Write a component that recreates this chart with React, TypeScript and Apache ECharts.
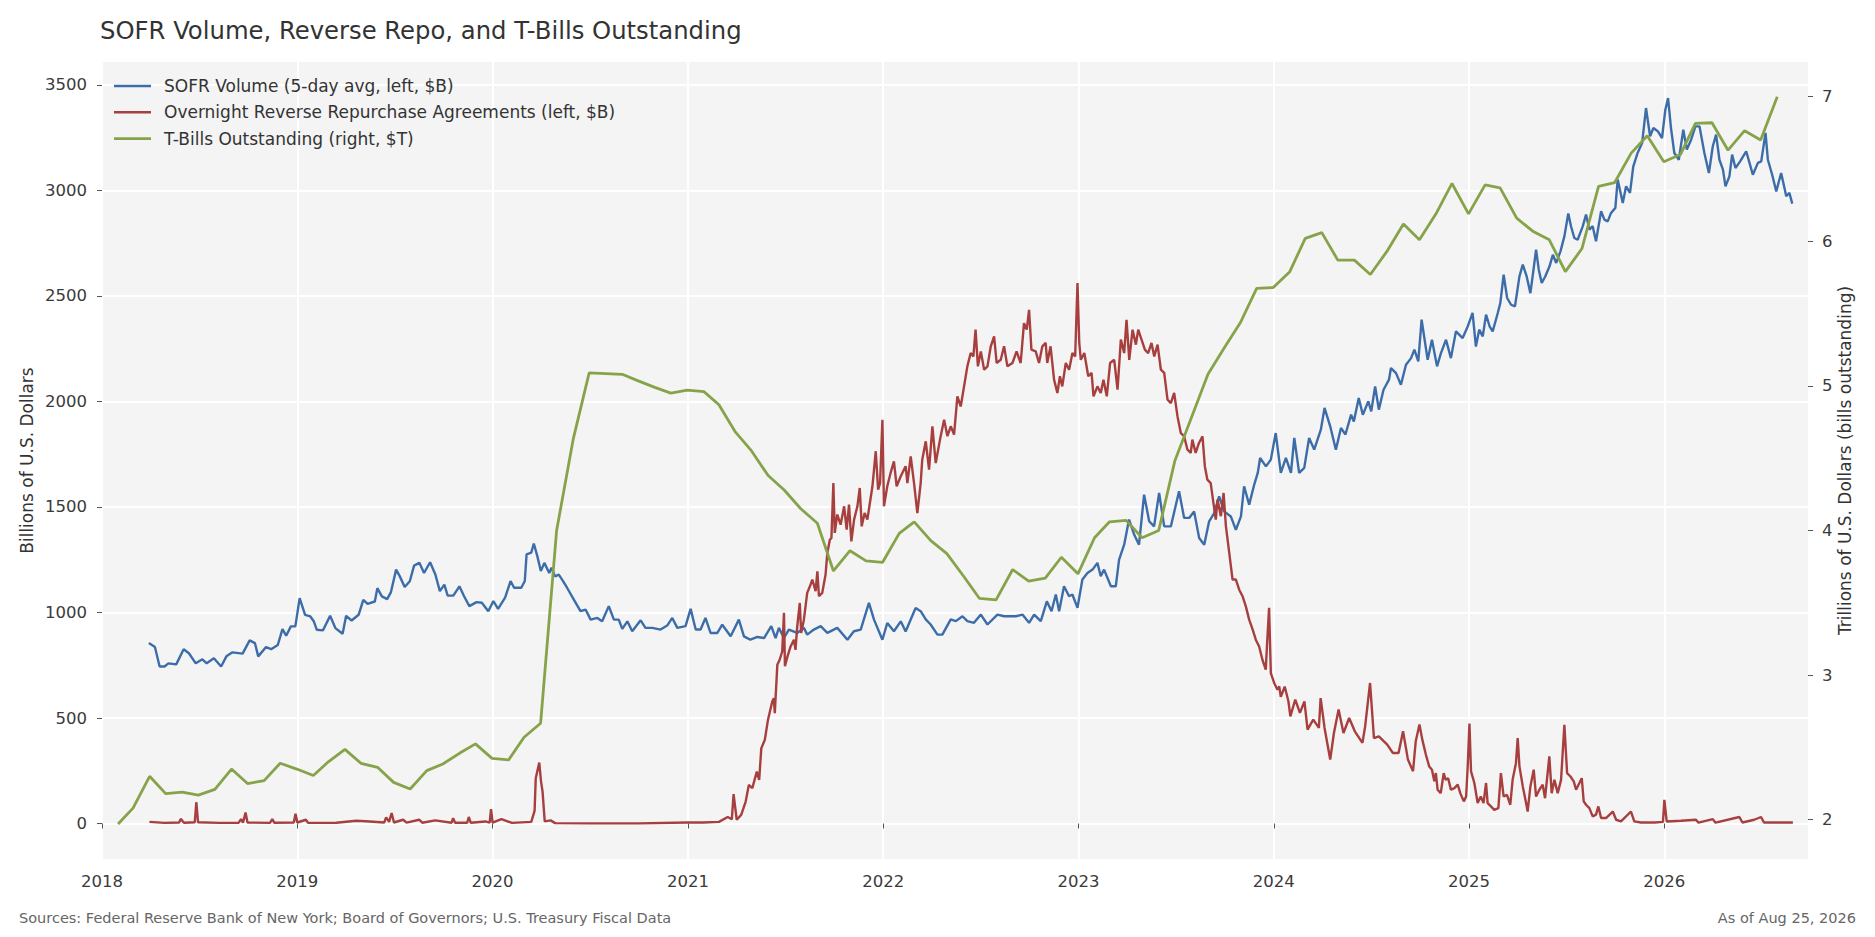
import React, { useEffect, useRef } from "react";
import * as echarts from "echarts";

const TITLE = "SOFR Volume, Reverse Repo, and T-Bills Outstanding";
const SOURCE_NOTE = "Sources: Federal Reserve Bank of New York; Board of Governors; U.S. Treasury Fiscal Data";
const AS_OF = "As of Aug 25, 2026";
const LEFT_AXIS_NAME = "Billions of U.S. Dollars";
const RIGHT_AXIS_NAME = "Trillions of U.S. Dollars (bills outstanding)";
const SERIES_NAMES = [
  "SOFR Volume (5-day avg, left, $B)",
  "Overnight Reverse Repurchase Agreements (left, $B)",
  "T-Bills Outstanding (right, $T)",
];
const YEAR_TICKS = [2018, 2019, 2020, 2021, 2022, 2023, 2024, 2025, 2026];
const LEFT_TICKS = [0, 500, 1000, 1500, 2000, 2500, 3000, 3500];
const RIGHT_TICKS = [2, 3, 4, 5, 6, 7];

// [decimal year, $B]
const SOFR_VOLUME: [number, number][] = [
  [2018.240,855],[2018.271,836],[2018.295,744],[2018.320,744],[2018.340,759],[2018.380,754],[2018.418,826],[2018.445,807],[2018.480,759],[2018.514,778],[2018.536,759],[2018.573,783],[2018.610,744],[2018.637,792],[2018.668,811],[2018.720,805],[2018.756,868],[2018.783,855],[2018.800,792],[2018.840,836],[2018.866,826],[2018.900,846],[2018.924,921],[2018.943,890],[2018.967,934],[2018.990,934],
  [2019.012,1068],[2019.040,989],[2019.067,981],[2019.085,957],[2019.100,918],[2019.131,915],[2019.168,984],[2019.195,926],[2019.232,899],[2019.250,984],[2019.278,962],[2019.314,989],[2019.338,1060],[2019.360,1041],[2019.397,1052],[2019.410,1115],[2019.433,1076],[2019.460,1063],[2019.479,1095],[2019.506,1203],[2019.525,1171],[2019.550,1121],[2019.576,1148],[2019.598,1222],[2019.625,1235],[2019.649,1187],[2019.680,1238],[2019.707,1180],[2019.730,1101],[2019.753,1132],[2019.770,1080],[2019.799,1080],[2019.830,1124],[2019.854,1077],[2019.881,1030],[2019.918,1049],[2019.945,1046],[2019.978,1006],
  [2020.004,1054],[2020.028,1017],[2020.064,1070],[2020.092,1149],[2020.110,1117],[2020.147,1117],[2020.165,1149],[2020.174,1275],[2020.198,1283],[2020.211,1327],[2020.229,1267],[2020.247,1196],[2020.265,1235],[2020.290,1187],[2020.302,1212],[2020.320,1171],[2020.339,1179],[2020.360,1150],[2020.382,1116],[2020.416,1061],[2020.450,1006],[2020.476,1014],[2020.502,966],[2020.536,974],[2020.561,958],[2020.595,1030],[2020.621,966],[2020.646,966],[2020.664,922],[2020.690,958],[2020.715,911],[2020.758,963],[2020.783,927],[2020.818,927],[2020.860,919],[2020.894,938],[2020.920,974],[2020.946,927],[2020.988,935],
  [2021.014,1017],[2021.040,919],[2021.065,919],[2021.090,974],[2021.116,903],[2021.151,903],[2021.176,942],[2021.219,887],[2021.261,966],[2021.287,887],[2021.320,871],[2021.356,884],[2021.390,879],[2021.427,935],[2021.449,879],[2021.466,927],[2021.492,879],[2021.517,919],[2021.560,903],[2021.594,927],[2021.611,895],[2021.645,919],[2021.680,935],[2021.714,903],[2021.765,927],[2021.817,871],[2021.850,911],[2021.885,919],[2021.927,1045],[2021.953,966],[2021.996,871],
  [2022.021,950],[2022.055,911],[2022.090,958],[2022.115,910],[2022.166,1021],[2022.192,1006],[2022.218,967],[2022.243,943],[2022.278,895],[2022.303,895],[2022.346,967],[2022.372,959],[2022.406,982],[2022.431,959],[2022.465,951],[2022.500,990],[2022.534,943],[2022.585,990],[2022.619,982],[2022.679,982],[2022.713,990],[2022.747,951],[2022.773,990],[2022.807,959],[2022.838,1053],[2022.862,1006],[2022.884,1085],[2022.901,1006],[2022.926,1124],[2022.952,1077],[2022.969,1085],[2022.995,1022],
  [2023.020,1156],[2023.046,1187],[2023.072,1203],[2023.097,1235],[2023.114,1172],[2023.131,1203],[2023.166,1124],[2023.191,1124],[2023.208,1250],[2023.234,1321],[2023.259,1440],[2023.285,1369],[2023.310,1321],[2023.336,1558],[2023.362,1432],[2023.387,1408],[2023.413,1566],[2023.439,1408],[2023.473,1408],[2023.515,1574],[2023.541,1448],[2023.567,1448],[2023.592,1479],[2023.618,1353],[2023.644,1321],[2023.669,1432],[2023.695,1471],[2023.720,1550],[2023.746,1479],[2023.780,1455],[2023.806,1392],[2023.832,1455],[2023.848,1598],[2023.874,1511],[2023.900,1606],[2023.918,1661],[2023.930,1732],[2023.960,1692],[2023.985,1724],
  [2024.010,1850],[2024.036,1661],[2024.062,1732],[2024.088,1661],[2024.105,1827],[2024.130,1661],[2024.156,1685],[2024.181,1827],[2024.207,1772],[2024.241,1866],[2024.260,1969],[2024.289,1882],[2024.318,1771],[2024.344,1874],[2024.367,1843],[2024.396,1937],[2024.410,1905],[2024.435,2016],[2024.456,1937],[2024.484,2000],[2024.499,1953],[2024.519,2071],[2024.538,1961],[2024.562,2055],[2024.590,2103],[2024.600,2158],[2024.626,2134],[2024.651,2079],[2024.677,2174],[2024.703,2205],[2024.720,2245],[2024.740,2190],[2024.757,2387],[2024.788,2197],[2024.810,2292],[2024.836,2166],[2024.856,2229],[2024.882,2292],[2024.907,2205],[2024.933,2332],[2024.967,2300],[2024.993,2355],
  [2025.018,2419],[2025.035,2260],[2025.052,2340],[2025.070,2308],[2025.087,2411],[2025.105,2356],[2025.121,2332],[2025.147,2419],[2025.160,2466],[2025.177,2600],[2025.195,2490],[2025.215,2458],[2025.235,2450],[2025.258,2592],[2025.275,2648],[2025.295,2592],[2025.314,2513],[2025.330,2624],[2025.343,2719],[2025.357,2624],[2025.372,2561],[2025.390,2592],[2025.412,2640],[2025.429,2695],[2025.446,2656],[2025.468,2711],[2025.488,2782],[2025.508,2890],[2025.522,2830],[2025.539,2774],[2025.556,2766],[2025.582,2829],[2025.599,2885],[2025.616,2814],[2025.633,2830],[2025.650,2759],[2025.676,2901],[2025.693,2861],[2025.710,2853],[2025.727,2893],[2025.749,2917],[2025.761,3051],[2025.787,2940],[2025.804,3019],[2025.824,2988],[2025.841,3114],[2025.863,3177],[2025.886,3224],[2025.906,3390],[2025.927,3256],[2025.944,3295],[2025.966,3280],[2025.988,3248],
  [2026.005,3382],[2026.019,3437],[2026.034,3295],[2026.051,3177],[2026.074,3145],[2026.097,3287],[2026.115,3193],[2026.137,3240],[2026.159,3303],[2026.180,3303],[2026.205,3177],[2026.228,3082],[2026.248,3209],[2026.265,3264],[2026.282,3145],[2026.300,3098],[2026.313,3019],[2026.333,3066],[2026.347,3169],[2026.364,3106],[2026.388,3137],[2026.419,3185],[2026.436,3130],[2026.453,3074],[2026.479,3130],[2026.496,3137],[2026.518,3272],[2026.530,3145],[2026.552,3074],[2026.573,2995],[2026.598,3082],[2026.615,3011],[2026.624,2972],[2026.640,2988],[2026.655,2937],
];

// [decimal year, $B]
const RRP_VOLUME: [number, number][] = [
  [2018.243,8],[2018.320,3],[2018.395,5],[2018.403,22],[2018.420,4],[2018.475,6],[2018.483,101],[2018.492,6],[2018.600,3],[2018.700,4],[2018.712,21],[2018.722,4],[2018.735,52],[2018.745,5],[2018.860,3],[2018.872,21],[2018.882,4],[2018.982,5],[2018.991,46],
  [2019.000,5],[2019.044,18],[2019.055,3],[2019.200,4],[2019.302,13],[2019.370,10],[2019.445,5],[2019.455,29],[2019.470,8],[2019.483,50],[2019.495,5],[2019.542,18],[2019.560,4],[2019.624,18],[2019.640,4],[2019.706,15],[2019.790,4],[2019.798,25],[2019.808,4],[2019.870,4],[2019.878,31],[2019.888,4],[2019.963,10],[2019.985,4],[2019.992,68],
  [2020.000,4],[2020.045,21],[2020.100,3],[2020.198,8],[2020.215,60],[2020.221,215],[2020.239,289],[2020.248,200],[2020.256,150],[2020.267,10],[2020.297,15],[2020.320,2],[2020.500,1],[2020.750,1],[2020.994,5],
  [2021.079,5],[2021.159,8],[2021.204,31],[2021.225,20],[2021.234,139],[2021.250,18],[2021.273,41],[2021.296,104],[2021.312,183],[2021.330,168],[2021.353,246],[2021.365,207],[2021.376,357],[2021.394,397],[2021.410,491],[2021.432,578],[2021.440,594],[2021.445,523],[2021.458,752],[2021.470,776],[2021.483,815],[2021.492,999],[2021.497,745],[2021.510,792],[2021.526,839],[2021.543,871],[2021.551,823],[2021.560,934],[2021.573,1045],[2021.580,903],[2021.594,966],[2021.611,1093],[2021.625,1124],[2021.637,1156],[2021.654,1101],[2021.663,1195],[2021.671,1077],[2021.688,1093],[2021.705,1180],[2021.714,1282],[2021.727,1345],[2021.735,1353],[2021.745,1613],[2021.752,1377],[2021.765,1464],[2021.782,1416],[2021.800,1503],[2021.813,1392],[2021.825,1511],[2021.837,1337],[2021.851,1440],[2021.868,1503],[2021.880,1590],[2021.890,1408],[2021.905,1471],[2021.919,1440],[2021.945,1598],[2021.962,1764],[2021.974,1582],[2021.984,1613],[2021.996,1913],
  [2022.004,1503],[2022.021,1598],[2022.038,1661],[2022.055,1716],[2022.069,1598],[2022.090,1645],[2022.115,1693],[2022.124,1613],[2022.141,1740],[2022.158,1613],[2022.175,1471],[2022.192,1613],[2022.200,1724],[2022.218,1811],[2022.235,1677],[2022.252,1882],[2022.269,1708],[2022.291,1819],[2022.312,1913],[2022.329,1835],[2022.346,1882],[2022.363,1843],[2022.380,2024],[2022.397,1976],[2022.410,2048],[2022.431,2166],[2022.448,2229],[2022.462,2213],[2022.473,2340],[2022.485,2166],[2022.500,2237],[2022.517,2150],[2022.534,2166],[2022.551,2261],[2022.568,2308],[2022.581,2182],[2022.602,2197],[2022.619,2261],[2022.636,2166],[2022.662,2182],[2022.683,2237],[2022.704,2182],[2022.721,2371],[2022.735,2340],[2022.747,2434],[2022.759,2245],[2022.781,2237],[2022.798,2182],[2022.815,2261],[2022.832,2277],[2022.840,2182],[2022.857,2261],[2022.875,2103],[2022.892,2040],[2022.905,2119],[2022.917,2071],[2022.935,2182],[2022.952,2150],[2022.969,2229],[2022.983,2213],[2022.995,2561],
  [2023.004,2277],[2023.012,2197],[2023.030,2229],[2023.050,2119],[2023.067,2135],[2023.077,2024],[2023.097,2071],[2023.114,2040],[2023.128,2103],[2023.145,2024],[2023.162,2182],[2023.183,2197],[2023.200,2056],[2023.217,2293],[2023.234,2229],[2023.246,2387],[2023.260,2197],[2023.277,2340],[2023.294,2269],[2023.306,2340],[2023.323,2293],[2023.340,2245],[2023.357,2229],[2023.374,2277],[2023.388,2213],[2023.405,2269],[2023.422,2150],[2023.439,2135],[2023.456,2008],[2023.473,1992],[2023.490,2040],[2023.507,1929],[2023.524,1850],[2023.541,1835],[2023.558,1771],[2023.575,1756],[2023.583,1819],[2023.600,1756],[2023.617,1803],[2023.635,1835],[2023.647,1693],[2023.660,1629],[2023.677,1613],[2023.691,1519],[2023.703,1440],[2023.712,1535],[2023.729,1456],[2023.743,1566],[2023.755,1408],[2023.772,1282],[2023.789,1156],[2023.806,1156],[2023.823,1108],[2023.840,1077],[2023.857,1029],[2023.874,966],[2023.892,919],[2023.908,871],[2023.925,839],[2023.942,776],[2023.959,729],[2023.965,839],[2023.976,1022],[2023.985,713],
  [2024.002,666],[2024.019,634],[2024.028,650],[2024.036,600],[2024.056,649],[2024.075,579],[2024.085,508],[2024.110,587],[2024.134,524],[2024.157,579],[2024.173,445],[2024.202,492],[2024.231,453],[2024.240,594],[2024.260,453],[2024.289,303],[2024.308,429],[2024.332,540],[2024.357,429],[2024.386,500],[2024.415,437],[2024.454,382],[2024.468,461],[2024.493,666],[2024.513,405],[2024.538,413],[2024.581,374],[2024.610,334],[2024.639,334],[2024.662,437],[2024.687,303],[2024.713,248],[2024.727,390],[2024.746,469],[2024.760,400],[2024.779,326],[2024.796,270],[2024.810,255],[2024.822,200],[2024.830,239],[2024.839,160],[2024.855,144],[2024.870,239],[2024.880,207],[2024.893,215],[2024.907,160],[2024.925,168],[2024.942,184],[2024.955,144],[2024.973,105],[2024.985,128],[2024.993,270],
  [2025.002,474],[2025.010,247],[2025.027,192],[2025.044,97],[2025.060,128],[2025.074,97],[2025.087,192],[2025.095,97],[2025.112,81],[2025.129,65],[2025.150,73],[2025.163,239],[2025.177,128],[2025.194,136],[2025.211,89],[2025.223,207],[2025.240,286],[2025.249,405],[2025.258,271],[2025.275,176],[2025.292,97],[2025.300,57],[2025.314,176],[2025.331,255],[2025.343,128],[2025.360,160],[2025.377,184],[2025.389,120],[2025.411,318],[2025.423,144],[2025.437,207],[2025.454,144],[2025.471,207],[2025.488,468],[2025.502,239],[2025.519,223],[2025.536,200],[2025.548,160],[2025.565,192],[2025.577,215],[2025.587,105],[2025.599,89],[2025.616,73],[2025.633,34],[2025.650,42],[2025.662,81],[2025.676,26],[2025.701,26],[2025.736,57],[2025.753,18],[2025.778,10],[2025.829,57],[2025.846,10],[2025.880,5],[2025.950,5],[2025.993,8],
  [2026.000,112],[2026.012,10],[2026.085,13],[2026.162,18],[2026.175,4],[2026.248,21],[2026.262,4],[2026.384,31],[2026.400,5],[2026.460,18],[2026.495,31],[2026.510,5],[2026.658,5],
];

// Monthly (month-end) T-bills outstanding, $T, starting Jan 2018
const TBILLS_START_YEAR = 2018;
const TBILLS_START_MONTH = 1;
const TBILLS_OUTSTANDING = [
  1.97, 2.08, 2.30, 2.18, 2.19, 2.17, 2.21, 2.35, 2.25, 2.27, 2.39, 2.35,
  2.305, 2.40, 2.486, 2.39, 2.362, 2.258, 2.212, 2.339, 2.385, 2.459, 2.524, 2.424,
  2.413, 2.57, 2.667, 4.0, 4.63, 5.09, 5.085, 5.08, 5.035, 4.99, 4.95, 4.97,
  4.96, 4.87, 4.68, 4.55, 4.38, 4.28, 4.15, 4.05, 3.72, 3.86, 3.79, 3.78,
  3.98, 4.06, 3.93, 3.84, 3.685, 3.53, 3.52, 3.73, 3.65, 3.67, 3.815, 3.70,
  3.95, 4.06, 4.07, 3.95, 4.0, 4.48, 4.78, 5.08, 5.26, 5.44, 5.675, 5.68,
  5.79, 6.02, 6.06, 5.87, 5.87, 5.77, 5.93, 6.12, 6.01, 6.19, 6.40, 6.19,
  6.39, 6.37, 6.16, 6.07, 6.01, 5.79, 5.95, 6.38, 6.405, 6.61, 6.73, 6.55,
  6.60, 6.815, 6.82, 6.63, 6.765, 6.70, 7.0,
];

const COLORS = { sofr: "#3d6da8", rrp: "#a83f3f", tbills: "#86a34a" };
const FONT = "DejaVu Sans";

function monthEndToYear(year: number, month0: number): number {
  const end = Date.UTC(year, month0 + 1, 0);
  const y0 = Date.UTC(year, 0, 1);
  const y1 = Date.UTC(year + 1, 0, 1);
  return year + (end - y0) / (y1 - y0);
}

export default function App() {
  const ref = useRef<HTMLDivElement>(null);

  useEffect(() => {
    if (!ref.current) return;
    document.body.style.margin = "0";
    const chart = echarts.init(ref.current, undefined, { renderer: "svg" });

    const tbills = TBILLS_OUTSTANDING.map((v, i) => {
      const m = TBILLS_START_MONTH - 1 + i;
      const y = TBILLS_START_YEAR + Math.floor(m / 12);
      return [monthEndToYear(y, m % 12), v];
    });

    const tickLabel = { fontFamily: FONT, fontSize: 16.5, color: "#3a3a3a" };
    const tickStyle = { show: true, length: 5, lineStyle: { color: "#555", width: 1 } };

    chart.setOption({
      animation: false,
      backgroundColor: "#ffffff",
      grid: {
        left: 102,
        right: 67,
        top: 62,
        bottom: 78,
        show: true,
        backgroundColor: "#f4f4f4",
        borderWidth: 0,
        containLabel: false,
      },
      legend: {
        orient: "vertical",
        left: 114,
        top: 77.5,
        padding: 0,
        itemWidth: 37,
        itemHeight: 2.6,
        itemGap: 9.3,
        icon: "rect",
        selectedMode: false,
        textStyle: { fontFamily: FONT, fontSize: 17, color: "#333", lineHeight: 17, padding: [0, 0, 0, 8] },
        data: SERIES_NAMES,
      },
      xAxis: {
        type: "value",
        min: 2018,
        max: 2026.7355,
        minInterval: 1,
        maxInterval: 1,
        axisLine: { show: false },
        axisTick: { ...tickStyle, customValues: YEAR_TICKS },
        axisLabel: {
          ...tickLabel,
          margin: 14,
          customValues: YEAR_TICKS,
          formatter: (v: number) => (Math.abs(v - Math.round(v)) < 1e-6 ? String(Math.round(v)) : ""),
        },
        splitLine: { show: true, lineStyle: { color: "#ffffff", width: 2 } },
      },
      yAxis: [
        {
          type: "value",
          position: "left",
          min: -168,
          max: 3608,
          minInterval: 500,
          maxInterval: 500,
          axisLine: { show: false },
          axisTick: { ...tickStyle, customValues: LEFT_TICKS },
          axisLabel: {
            ...tickLabel,
            margin: 15,
            customValues: LEFT_TICKS,
            formatter: (v: number) => (Math.abs(v % 500) < 1e-6 ? String(v) : ""),
          },
          splitLine: { show: true, lineStyle: { color: "#ffffff", width: 2 } },
        },
        {
          type: "value",
          position: "right",
          min: 1.728,
          max: 7.24,
          minInterval: 1,
          maxInterval: 1,
          axisLine: { show: false },
          axisTick: { ...tickStyle, customValues: RIGHT_TICKS },
          axisLabel: {
            ...tickLabel,
            margin: 14,
            customValues: RIGHT_TICKS,
            formatter: (v: number) => (Math.abs(v - Math.round(v)) < 1e-6 ? String(Math.round(v)) : ""),
          },
          splitLine: { show: false },
        },
      ],
      series: [
        {
          name: SERIES_NAMES[0],
          type: "line",
          yAxisIndex: 0,
          data: SOFR_VOLUME,
          showSymbol: false,
          symbol: "none",
          color: COLORS.sofr,
          lineStyle: { color: COLORS.sofr, width: 2.4 },
          z: 2,
        },
        {
          name: SERIES_NAMES[1],
          type: "line",
          yAxisIndex: 0,
          data: RRP_VOLUME,
          showSymbol: false,
          symbol: "none",
          color: COLORS.rrp,
          lineStyle: { color: COLORS.rrp, width: 2.4 },
          z: 3,
        },
        {
          name: SERIES_NAMES[2],
          type: "line",
          yAxisIndex: 1,
          data: tbills,
          showSymbol: false,
          symbol: "none",
          color: COLORS.tbills,
          lineStyle: { color: COLORS.tbills, width: 2.8 },
          z: 4,
        },
      ],
      graphic: [
        {
          type: "text",
          x: 100,
          y: 30.5,
          style: {
            text: TITLE,
            fill: "#333",
            font: `24.3px "${FONT}"`,
            align: "left",
            verticalAlign: "middle",
            textAlign: "left",
            textVerticalAlign: "middle",
          },
        },
        {
          type: "text",
          x: 19,
          y: 917.5,
          style: {
            text: SOURCE_NOTE,
            fill: "#666",
            font: `14.5px "${FONT}"`,
            align: "left",
            verticalAlign: "middle",
            textAlign: "left",
            textVerticalAlign: "middle",
          },
        },
        {
          type: "text",
          x: 1856,
          y: 917.5,
          style: {
            text: AS_OF,
            fill: "#666",
            font: `14.5px "${FONT}"`,
            align: "right",
            verticalAlign: "middle",
            textAlign: "right",
            textVerticalAlign: "middle",
          },
        },
        {
          type: "text",
          x: 26.5,
          y: 460.5,
          rotation: Math.PI / 2,
          style: {
            text: LEFT_AXIS_NAME,
            fill: "#333",
            font: `17px "${FONT}"`,
            align: "center",
            verticalAlign: "middle",
            textAlign: "center",
            textVerticalAlign: "middle",
          },
        },
        {
          type: "text",
          x: 1845,
          y: 460.5,
          rotation: Math.PI / 2,
          style: {
            text: RIGHT_AXIS_NAME,
            fill: "#333",
            font: `17px "${FONT}"`,
            align: "center",
            verticalAlign: "middle",
            textAlign: "center",
            textVerticalAlign: "middle",
          },
        },
      ],
    });

    return () => {
      chart.dispose();
    };
  }, []);

  return (
    <div
      ref={ref}
      style={{ position: "absolute", left: 0, top: 0, width: "1875px", height: "937px" }}
    />
  );
}
